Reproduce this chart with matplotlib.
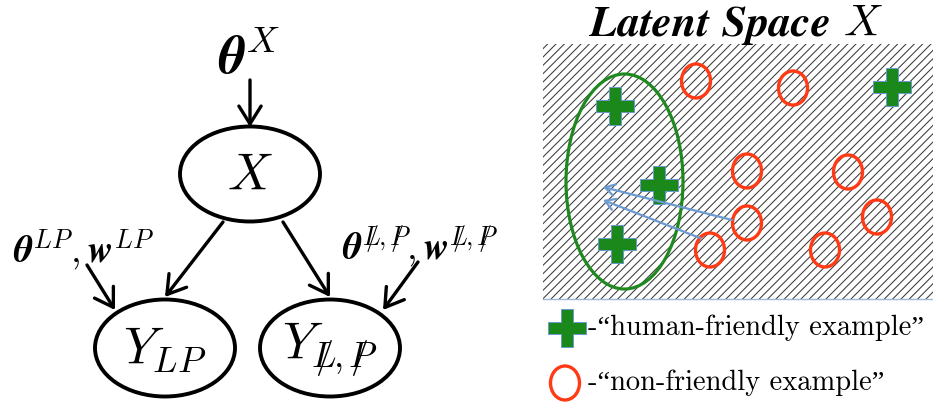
import matplotlib
matplotlib.use("Agg")
import matplotlib.pyplot as plt
from matplotlib.patches import Ellipse, Rectangle, FancyArrowPatch
from matplotlib.mathtext import MathTextParser

# ---------------- data ----------------
# graphical model nodes
node_labels = [r"$X$", r"$Y_{LP}$", r"$Y_{L\!\!\!\!/{,}\,P\!\!\!\!/}$"]
node_x = [250, 165, 330]
node_y = [174, 348, 348]
node_w = [140, 140, 140]
node_h = [95, 97, 97]

# parameter labels
param_labels = [r"$\boldsymbol{\theta}^{X}$",
                r"$\boldsymbol{\theta}^{LP}, \boldsymbol{w}^{LP}$",
                r"$\boldsymbol{\theta}^{L\!\!\!\!/{,}\,P\!\!\!\!/}, \boldsymbol{w}^{L\!\!\!\!/{,}\,P\!\!\!\!/}$"]
param_x = [249, 83, 420]
param_y = [74, 262, 260]

# arrows (start -> end)
arrow_x0 = [250, 223, 283, 87, 418]
arrow_y0 = [80, 222, 222, 265, 262]
arrow_x1 = [250, 165, 330, 115, 383]
arrow_y1 = [127, 297, 297, 310, 310]

# latent space points
friendly_x = [615, 659, 617, 892]
friendly_y = [106, 185, 244, 87]
nonfriendly_x = [696, 793, 747, 848, 747, 877, 710, 825]
nonfriendly_y = [81, 88, 171, 172, 223, 217, 250, 250]

# projection arrows
proj_x0 = [732, 700]
proj_y0 = [220, 238]
proj_x1 = [603, 603]
proj_y1 = [187, 200]

title_text = r"$\boldsymbol{Latent\ Space}\ X$"
legend_labels = ["-\u201chuman-friendly example\u201d", "-\u201cnon-friendly example\u201d"]

# ---------------- drawing ----------------
def safe_math(s, fallback):
    try:
        MathTextParser("path").parse(s)
        return s
    except Exception:
        return fallback

plt.rcParams["mathtext.fontset"] = "cm"
plt.rcParams["hatch.linewidth"] = 0.75

fig = plt.figure(figsize=(9.33, 4.05), dpi=100)
ax = fig.add_axes([0, 0, 1, 1])
ax.set_xlim(0, 933)
ax.set_ylim(405, 0)
ax.axis("off")

# nodes
for lab, x, y, w, h in zip(node_labels, node_x, node_y, node_w, node_h):
    ax.add_patch(Ellipse((x, y), w, h, facecolor="white", edgecolor="black", lw=2.8, zorder=2))
    ax.text(x, y + 2, lab, ha="center", va="center", fontsize=37, zorder=3)

# parameter labels
sizes = [38, 27, 27]
for lab, x, y, s in zip(param_labels, param_x, param_y, sizes):
    lab2 = safe_math(lab, lab.replace(r"\boldsymbol", r"\mathbf"))
    ax.text(x, y, lab2, ha="center", va="baseline", fontsize=s, zorder=3)

# black arrows
for x0, y0, x1, y1 in zip(arrow_x0, arrow_y0, arrow_x1, arrow_y1):
    ax.add_patch(FancyArrowPatch((x0, y0), (x1, y1), arrowstyle="->,head_length=0.8,head_width=0.5",
                                 mutation_scale=16, lw=2.4, color="black", shrinkA=0, shrinkB=0,
                                 zorder=4))

# latent space hatched area
ax.add_patch(Rectangle((543, 44), 400, 255, facecolor="white", edgecolor="#3a3a3a",
                       hatch="////", lw=0, zorder=1))
ax.plot([543, 933], [299, 299], color="#9fb8d8", lw=1, zorder=1)

# title
t = safe_math(title_text, None)
if t is not None:
    ax.text(736, 36, t, fontsize=32, ha="center", va="baseline")
else:
    ax.text(585, 36, "Latent Space", family="DejaVu Serif", weight="bold", style="italic",
            fontsize=27, ha="left", va="baseline")
    ax.text(856, 36, r"$X$", fontsize=29, ha="left", va="baseline")

# cluster ellipse
ax.add_patch(Ellipse((624.5, 181.5), 117, 215, facecolor="none", edgecolor="#1e8a1e", lw=2.3, zorder=3))

# points
ax.plot(friendly_x, friendly_y, linestyle="none", marker="P", markersize=27,
        markerfacecolor="#1a881a", markeredgecolor="#6a9ad0", markeredgewidth=0.7, zorder=5)
for x, y in zip(nonfriendly_x, nonfriendly_y):
    ax.add_patch(Ellipse((x, y), 29, 34, facecolor="none", edgecolor="#ff3a14", lw=2.4, zorder=5))

# projection arrows
for x0, y0, x1, y1 in zip(proj_x0, proj_y0, proj_x1, proj_y1):
    ax.add_patch(FancyArrowPatch((x0, y0), (x1, y1), arrowstyle="->,head_length=0.5,head_width=0.3",
                                 mutation_scale=14, lw=1.6, color="#6b9bd1", shrinkA=0, shrinkB=0,
                                 zorder=6))

# legend
ax.plot([567], [328], linestyle="none", marker="P", markersize=27,
        markerfacecolor="#1a881a", markeredgecolor="#6a9ad0", markeredgewidth=0.7, zorder=5)
ax.add_patch(Ellipse((565, 383), 29, 34, facecolor="none", edgecolor="#ff3a14", lw=2.4, zorder=5))
ax.text(588, 328, legend_labels[0], family=["cmr10", "Liberation Serif"], fontsize=20.5,
        ha="left", va="center")
ax.text(588, 383, legend_labels[1], family=["cmr10", "Liberation Serif"], fontsize=20.5,
        ha="left", va="center")

fig.savefig("out.png", dpi=100)
